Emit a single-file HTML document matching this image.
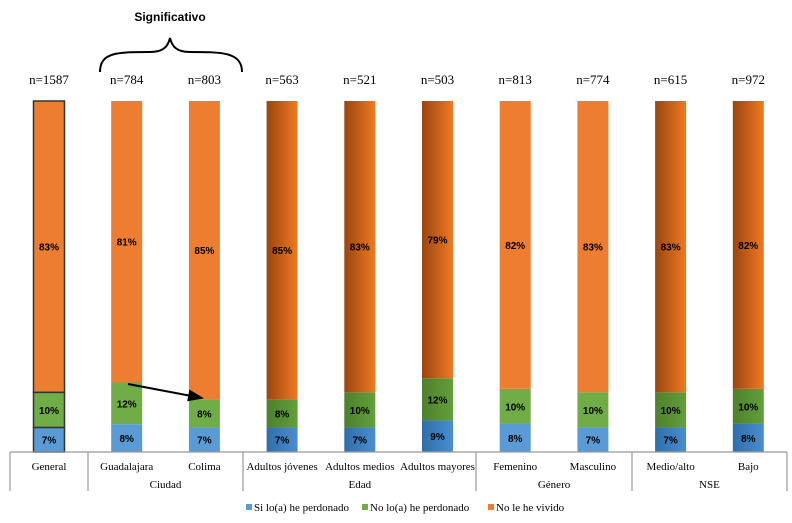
<!DOCTYPE html>
<html><head><meta charset="utf-8">
<style>
html,body{margin:0;padding:0;background:#fff;}
svg{display:block;}
.n{font-family:"Liberation Serif",serif;font-size:13px;fill:#000;}
.t{font-family:"Liberation Serif",serif;font-size:11px;fill:#000;}
.p{font-family:"Liberation Sans",sans-serif;font-size:10px;font-weight:bold;fill:#000;}
</style></head>
<body>
<svg id="chart" width="792" height="523" viewBox="0 0 792 523">
<defs>
<linearGradient id="gO" x1="0" x2="1"><stop offset="0" stop-color="#9a4510"/><stop offset="1" stop-color="#f07a20"/></linearGradient>
<linearGradient id="gG" x1="0" x2="1"><stop offset="0" stop-color="#4e7f2e"/><stop offset="1" stop-color="#62a03a"/></linearGradient>
<linearGradient id="gB" x1="0" x2="1"><stop offset="0" stop-color="#2f6ea8"/><stop offset="1" stop-color="#4a8ed0"/></linearGradient>
<marker id="ah" markerWidth="8" markerHeight="8" refX="7" refY="4" orient="auto"><path d="M0,1 L8,4 L0,7 z" fill="#000"/></marker>
</defs>
<text x="170" y="21" text-anchor="middle" style="font-family:'Liberation Sans',sans-serif;font-size:12px;font-weight:bold">Significativo</text>
<path d="M100,72 C100,52 118,52 150,52 C164,52 168,46 170,38 C172,46 176,52 190,52 C222,52 242,52 242,72" fill="none" stroke="#000" stroke-width="2"/>
<g id="bars"></g>
<line x1="128" y1="384" x2="202" y2="398" stroke="#000" stroke-width="2" marker-end="url(#ah)"/>
<g id="axis"></g>
<g>
<g><rect x="246" y="504" width="6" height="6" fill="#5b9bd5"/><text class="t" x="254" y="511">Si lo(a) he perdonado</text></g>
<g><rect x="362" y="504" width="6" height="6" fill="#70ad47"/><text class="t" x="370" y="511">No lo(a) he perdonado</text></g>
<g><rect x="488" y="504" width="6" height="6" fill="#ed7d31"/><text class="t" x="496" y="511">No le he vivido</text></g>
</g>
</svg>
<script>
const categories=["General","Guadalajara","Colima","Adultos jóvenes","Adultos medios","Adultos mayores","Femenino","Masculino","Medio/alto","Bajo"];
const nLabels=["n=1587","n=784","n=803","n=563","n=521","n=503","n=813","n=774","n=615","n=972"];
const siPerdonado=[7,8,7,7,7,9,8,7,7,8];
const noPerdonado=[10,12,8,8,10,12,10,10,10,10];
const noVivido=[83,81,85,85,83,79,82,83,83,82];
const gradientBars=[false,false,false,true,true,true,false,false,true,true];
const groups=[{label:"",from:0,to:0},{label:"Ciudad",from:1,to:2},{label:"Edad",from:3,to:5},{label:"Género",from:6,to:7},{label:"NSE",from:8,to:9}];

const NS="http://www.w3.org/2000/svg";
const baseY=452, topY=101, bw=31;
const yScale=(v,tot)=>v*(baseY-topY)/tot;
const xCenter=i=>49+i*77.7;
const bounds=[10,88,243,476,632,787];
const bars=document.getElementById('bars');
const axis=document.getElementById('axis');
function mk(tag,attrs,parent){const e=document.createElementNS(NS,tag);for(const k in attrs)e.setAttribute(k,attrs[k]);parent.appendChild(e);return e;}

categories.forEach((c,i)=>{
  const g=mk('g',{},bars);
  
  
  const x=xCenter(i)-bw/2;
  const tot=siPerdonado[i]+noPerdonado[i]+noVivido[i];
  const segs=[[siPerdonado[i],gradientBars[i]?'url(#gB)':'#5b9bd5','si'],[noPerdonado[i],gradientBars[i]?'url(#gG)':'#70ad47','no'],[noVivido[i],gradientBars[i]?'url(#gO)':'#ed7d31','vivido']];
  let y=baseY;
  segs.forEach(s=>{
    const h=yScale(s[0],tot);y-=h;
    const r=mk('rect',{x:x,y:y,width:bw,height:h,fill:s[1]},g);
    if(i===0){r.setAttribute('stroke','#333');r.setAttribute('stroke-width','1.5');}
    
    
    const t=mk('text',{x:xCenter(i),y:y+h/2+4,'text-anchor':'middle',class:'p'},g);
    t.textContent=s[0]+'%';
    
    
  });
  const n=mk('text',{x:xCenter(i),y:84,'text-anchor':'middle',class:'n'},g);
  n.textContent=nLabels[i];
  
  
  const tl=mk('text',{x:xCenter(i),y:470,'text-anchor':'middle',class:'t'},axis);
  tl.textContent=c;
  
  
});
mk('line',{x1:10,y1:baseY,x2:787,y2:baseY,stroke:'#999','stroke-width':1.2},axis);
bounds.forEach(b=>{mk('line',{x1:b,y1:baseY,x2:b,y2:491,stroke:'#999','stroke-width':1.2},axis);});
groups.forEach(gr=>{
  if(!gr.label)return;
  const t=mk('text',{x:(xCenter(gr.from)+xCenter(gr.to))/2,y:488,'text-anchor':'middle',class:'t'},axis);
  t.textContent=gr.label;
  
  
});
</script>
</body></html>
